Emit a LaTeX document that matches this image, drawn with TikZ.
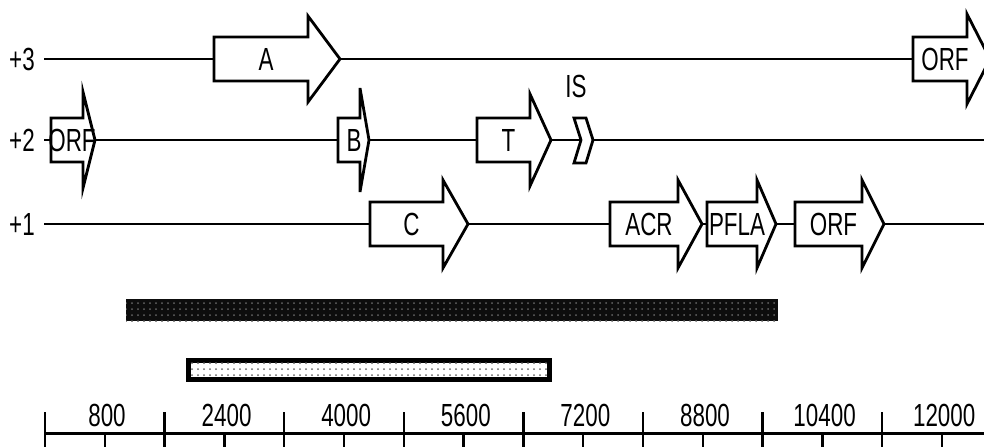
\documentclass[tikz,border=0pt]{standalone}
\usepackage{fontspec}
\setmainfont{Liberation Sans}[FakeStretch=0.7]
\usetikzlibrary{patterns}

\tikzset{
	frameline/.style={line width=1.4pt},
	genebox/.style={draw, fill=white, line width=1.4pt, line join=miter},
	genelabel/.style={font=\fontsize{16}{16}\selectfont, inner sep=0pt},
	scaletick/.style={line width=1.2pt},
}
% \gene{name}{left}{head base}{tip}{y}{head half height}{label}
\newcommand{\gene}[7]{%
	\draw[genebox] (#2,#5-22) -- (#3,#5-22) -- (#3,#5-#6) -- (#4,#5) -- (#3,#5+#6) -- (#3,#5+22) -- (#2,#5+22) -- cycle;
	\node[genelabel] (#1) at ({(#2+#3)/2+5},#5) {#7};
}

\begin{document}
\begin{tikzpicture}[x=0.5pt, y=-0.5pt]
	\useasboundingbox (0,0) rectangle (984,447);
	\clip (0,0) rectangle (984,447);
	\foreach \fr/\y in {3/59, 2/140, 1/224} {
		\node[genelabel] (frame\fr) at (22,\y) {+\fr};
		\coordinate (end\fr) at (984,\y);
		\draw[frameline] ([xshift=4.5pt]frame\fr.east) -- (end\fr);
	}
	% frame +3
	\gene{geneA}{214}{308}{340}{59}{43}{A}
	\gene{orfthree}{913}{967}{990}{59}{45}{ORF}
	% frame +2
	\gene{orftwo}{51}{83}{95}{140}{48}{ORF}
	\gene{geneB}{338}{360}{369}{140}{52}{B}
	\gene{geneT}{477}{530}{551}{140}{46}{T}
	\draw[genebox] (574,118) -- (586,118) -- (593,140) -- (586,163) -- (574,163) -- (581,140) -- cycle;
	\node[genelabel] (is) at (576,86) {IS};
	% frame +1
	\gene{geneC}{370}{443}{468}{224}{44}{C}
	\gene{acr}{610}{678}{702}{224}{44}{ACR}
	\gene{pfla}{707}{757}{776}{224}{44}{PFLA}
	\gene{orfone}{795}{862}{884}{224}{44}{ORF}
	% bars
	\fill[black!95] (126,299) rectangle (778,321);
	\fill[pattern=dots, pattern color=black!60] (126,299) rectangle (778,321);
	\draw[line width=2.5pt, fill=white] (188.5,360.5) rectangle (549.5,379.5);
	\fill[pattern=dots, pattern color=black!60] (188.5,360.5) rectangle (549.5,379.5);
	% scale
	\draw[line width=1.5pt] (45,433) -- (984,433);
	\foreach \i in {0,...,7} {
		\pgfmathtruncatemacro\bp{800+1600*\i}
		\draw[scaletick] ({45+119.6*\i},412) -- ({45+119.6*\i},447);
		\draw[scaletick] ({104.8+119.6*\i},433) -- ({104.8+119.6*\i},447);
		\node[genelabel] (bp\i) at ({107+119.6*\i},415) {\bp};
	}
\end{tikzpicture}
\end{document}
